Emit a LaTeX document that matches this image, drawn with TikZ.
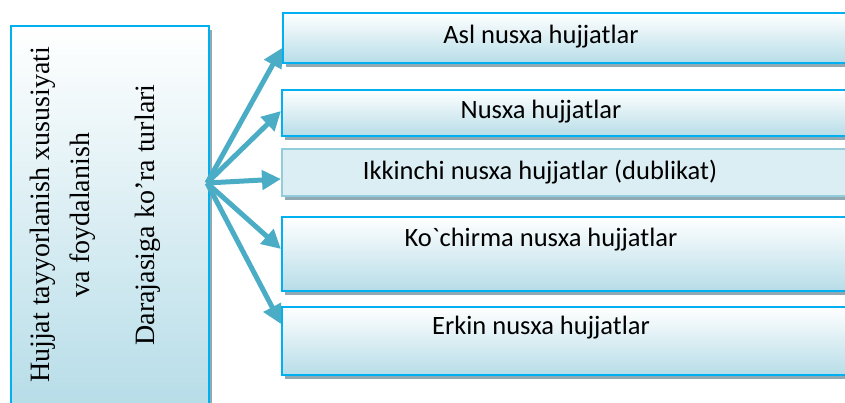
\documentclass[tikz,border=0pt]{standalone}
\usepackage{fontspec}
\setmainfont{Liberation Serif}
\newfontfamily\kindfont{Carlito}
\usetikzlibrary{arrows.meta,shadows}
\definecolor{frame-color}{HTML}{00B0F0}
\definecolor{fill-color}{HTML}{B7DDE8}
\definecolor{arrow-color}{HTML}{4BACC6}
\definecolor{pale-frame}{HTML}{92CDDC}
\definecolor{pale-fill}{HTML}{DAEEF3}
\definecolor{shadow-color}{HTML}{91A9B3}

\tikzset{
  kindbox/.style={draw=frame-color, line width=2pt, top color=white, bottom color=fill-color,
    minimum width=580pt, anchor=north west, inner sep=0pt,
    drop shadow={shadow xshift=3pt, shadow yshift=-4pt, fill=shadow-color, opacity=1}},
  palebox/.style={kindbox, draw=pale-frame, top color=pale-fill, bottom color=pale-fill},
  kindtext/.style={font=\kindfont\fontsize{26.5}{30}\selectfont, inner sep=0pt},
  link/.style={draw=arrow-color, line width=5pt, -{Triangle[length=19pt,width=19pt]}}
}

\begin{document}
\begin{tikzpicture}[x=1pt, y=-1pt]
	    \useasboundingbox (0,0) rectangle (845,403);
	    \clip (0,0) rectangle (845,403);
	
	    % source box
	    \node[kindbox, minimum width=198pt, minimum height=380pt] (src) at (10,25) {};
	    \node[rotate=90, align=center, font=\fontsize{28}{40}\selectfont, inner sep=0pt] (srctext) at (95,215)
	        {Hujjat tayyorlanish xususiyati\\ va foydalanish\\[25pt] Darajasiga ko’ra turlari};
	
	    % kinds
	    \node[kindbox, minimum height=50pt] (b1) at (282,12) {};
	    \node[kindtext] (t1) at (541,37) {Asl nusxa hujjatlar};
	
	    \node[kindbox, minimum height=46pt] (b2) at (281,89) {};
	    \node[kindtext] (t2) at (541,112) {Nusxa hujjatlar};
	
	    \node[palebox, minimum height=47pt] (b3) at (281,148) {};
	    \node[kindtext] (t3) at (540,172) {Ikkinchi nusxa hujjatlar (dublikat)};
	
	    \node[kindbox, minimum height=74pt] (b4) at (281,216) {};
	    \node[kindtext] (t4) at (541,240) {Ko`chirma nusxa hujjatlar};
	
	    \node[kindbox, minimum height=68pt] (b5) at (281,306) {};
	    \node[kindtext] (t5) at (541,328) {Erkin nusxa hujjatlar};
	
	    % arrows
	    \coordinate (hub) at (207,183);
	    \draw[link] (hub) -- ([yshift=-10pt]b1.west);
	    \draw[link] (hub) -- ([yshift=2pt]b2.west);
	    \draw[link] (hub) -- ([yshift=-6.5pt]b3.west);
	    \draw[link] (hub) -- ([yshift=5pt]b4.west);
	    \draw[link] (hub) -- ([yshift=17pt]b5.west);
	\end{tikzpicture}
\end{document}
